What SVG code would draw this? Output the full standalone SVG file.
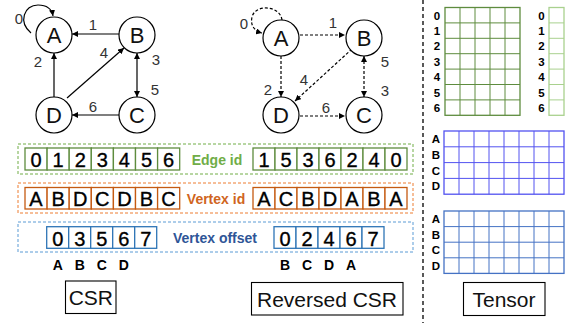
<svg xmlns="http://www.w3.org/2000/svg" width="566" height="323" viewBox="0 0 566 323">
<style>
text{font-family:"Liberation Sans",Arial,sans-serif;}
.node circle{fill:#fff;stroke:#000;stroke-width:1.2;}
.nl{font-size:22px;text-anchor:middle;fill:#111;}
.el{font-size:15px;text-anchor:middle;fill:#333;}
.e{fill:none;stroke:#000;stroke-width:1.2;marker-end:url(#ah);}
.ed{fill:none;stroke:#000;stroke-width:1.2;stroke-dasharray:3,2;marker-end:url(#ah);}
.cell{font-size:20px;text-anchor:middle;fill:#000;stroke:#000;stroke-width:0.35;}
.gc{fill:#fff;stroke:#5E8C3E;stroke-width:1.3;}
.oc{fill:#fff;stroke:#C55A11;stroke-width:1.3;}
.bc{fill:#fff;stroke:#2E75B6;stroke-width:1.3;}
.box{fill:none;stroke-width:1;stroke-dasharray:3,2;}
.lab{font-size:14px;font-weight:bold;text-anchor:middle;}
.bl{font-size:14px;font-weight:bold;text-anchor:middle;fill:#000;}
.tl{font-size:11.5px;font-weight:bold;text-anchor:middle;fill:#000;}
.title rect{fill:#fff;stroke:#000;stroke-width:1.1;}
.title text{font-size:21px;text-anchor:middle;fill:#111;}
</style>
<defs>
<marker id="ah" viewBox="0 0 10 10" refX="10" refY="5" markerWidth="6" markerHeight="6" markerUnits="userSpaceOnUse" orient="auto-start-reverse">
<path d="M0,0 L10,5 L0,10 z" fill="#000"/>
</marker>
</defs>
<rect width="566" height="323" fill="#fff"/>

<!-- CSR graph -->
<g id="connectors-csr">
<path class="e" d="M31,33 C18,22 24,5 38,5 C48,5 52,10 53,16"/>
<line class="e" x1="119" y1="34" x2="72" y2="34"/>
<line class="e" x1="54" y1="97" x2="54" y2="53"/>
<line class="e" x1="67" y1="98" x2="124" y2="48"/>
<line class="e" x1="137" y1="97" x2="137" y2="53" style="marker-start:url(#ah)"/>
<line class="e" x1="119" y1="115" x2="72" y2="115"/>
<text class="el" x="19" y="24">0</text>
<text class="el" x="93" y="30">1</text>
<text class="el" x="38" y="67">2</text>
<text class="el" x="104" y="58">4</text>
<text class="el" x="156" y="65">3</text>
<text class="el" x="155" y="95">5</text>
<text class="el" x="93" y="112">6</text>
</g>
<g id="csr-A" class="node"><circle cx="54" cy="35" r="18"/><text class="nl" x="54" y="43">A</text></g>
<g id="csr-B" class="node"><circle cx="137" cy="35" r="18"/><text class="nl" x="137" y="43">B</text></g>
<g id="csr-D" class="node"><circle cx="54" cy="115" r="18"/><text class="nl" x="54" y="123">D</text></g>
<g id="csr-C" class="node"><circle cx="137" cy="115" r="18"/><text class="nl" x="137" y="123">C</text></g>

<!-- Reversed CSR graph -->
<g id="connectors-rcsr">
<path class="ed" d="M282,20 C280,5 255,4 252,17 C250,26 255,31 262,33"/>
<line class="ed" x1="300" y1="35" x2="345" y2="35"/>
<line class="ed" x1="281" y1="56" x2="281" y2="97"/>
<line class="ed" x1="352" y1="49" x2="295" y2="101"/>
<line class="ed" x1="364" y1="56" x2="364" y2="97" style="marker-start:url(#ah)"/>
<line class="ed" x1="300" y1="116" x2="345" y2="116"/>
<text class="el" x="244" y="29">0</text>
<text class="el" x="333" y="28">1</text>
<text class="el" x="268" y="95">2</text>
<text class="el" x="304" y="85">4</text>
<text class="el" x="385" y="67">5</text>
<text class="el" x="385" y="96">3</text>
<text class="el" x="326" y="113">6</text>
</g>
<g id="rcsr-A" class="node"><circle cx="281" cy="38" r="18"/><text class="nl" x="281" y="46">A</text></g>
<g id="rcsr-B" class="node"><circle cx="364" cy="38" r="18"/><text class="nl" x="364" y="46">B</text></g>
<g id="rcsr-D" class="node"><circle cx="281" cy="115" r="18"/><text class="nl" x="281" y="123">D</text></g>
<g id="rcsr-C" class="node"><circle cx="364" cy="115" r="18"/><text class="nl" x="364" y="123">C</text></g>

<!-- Edge id row -->
<g id="edge-id">
<rect class="box" x="18" y="144" width="395" height="30" stroke="#70AD47"/>
<rect class="gc" x="25" y="148" width="22.1" height="22"/>
<rect class="gc" x="47.1" y="148" width="22.1" height="22"/>
<rect class="gc" x="69.2" y="148" width="22.1" height="22"/>
<rect class="gc" x="91.3" y="148" width="22.1" height="22"/>
<rect class="gc" x="113.4" y="148" width="22.1" height="22"/>
<rect class="gc" x="135.5" y="148" width="22.1" height="22"/>
<rect class="gc" x="157.6" y="148" width="22.1" height="22"/>
<text class="cell" x="36" y="166.5">0</text>
<text class="cell" x="58.1" y="166.5">1</text>
<text class="cell" x="80.2" y="166.5">2</text>
<text class="cell" x="102.3" y="166.5">3</text>
<text class="cell" x="124.4" y="166.5">4</text>
<text class="cell" x="146.5" y="166.5">5</text>
<text class="cell" x="168.6" y="166.5">6</text>
<text class="lab" x="217" y="164.5" fill="#70AD47">Edge id</text>
<rect class="gc" x="253" y="148" width="22" height="22"/>
<rect class="gc" x="275" y="148" width="22" height="22"/>
<rect class="gc" x="297" y="148" width="22" height="22"/>
<rect class="gc" x="319" y="148" width="22" height="22"/>
<rect class="gc" x="341" y="148" width="22" height="22"/>
<rect class="gc" x="363" y="148" width="22" height="22"/>
<rect class="gc" x="385" y="148" width="22" height="22"/>
<text class="cell" x="264" y="166.5">1</text>
<text class="cell" x="286" y="166.5">5</text>
<text class="cell" x="308" y="166.5">3</text>
<text class="cell" x="330" y="166.5">6</text>
<text class="cell" x="352" y="166.5">2</text>
<text class="cell" x="374" y="166.5">4</text>
<text class="cell" x="396" y="166.5">0</text>
</g>

<!-- Vertex id row -->
<g id="vertex-id">
<rect class="box" x="18" y="183" width="395" height="30" stroke="#ED7D31"/>
<rect class="oc" x="25" y="187.5" width="22.1" height="21.5"/>
<rect class="oc" x="47.1" y="187.5" width="22.1" height="21.5"/>
<rect class="oc" x="69.2" y="187.5" width="22.1" height="21.5"/>
<rect class="oc" x="91.3" y="187.5" width="22.1" height="21.5"/>
<rect class="oc" x="113.4" y="187.5" width="22.1" height="21.5"/>
<rect class="oc" x="135.5" y="187.5" width="22.1" height="21.5"/>
<rect class="oc" x="157.6" y="187.5" width="22.1" height="21.5"/>
<text class="cell" x="36" y="206">A</text>
<text class="cell" x="58.1" y="206">B</text>
<text class="cell" x="80.2" y="206">D</text>
<text class="cell" x="102.3" y="206">C</text>
<text class="cell" x="124.4" y="206">D</text>
<text class="cell" x="146.5" y="206">B</text>
<text class="cell" x="168.6" y="206">C</text>
<text class="lab" x="216" y="203.5" fill="#D0651E">Vertex id</text>
<rect class="oc" x="253" y="187.5" width="22" height="21.5"/>
<rect class="oc" x="275" y="187.5" width="22" height="21.5"/>
<rect class="oc" x="297" y="187.5" width="22" height="21.5"/>
<rect class="oc" x="319" y="187.5" width="22" height="21.5"/>
<rect class="oc" x="341" y="187.5" width="22" height="21.5"/>
<rect class="oc" x="363" y="187.5" width="22" height="21.5"/>
<rect class="oc" x="385" y="187.5" width="22" height="21.5"/>
<text class="cell" x="264" y="206">A</text>
<text class="cell" x="286" y="206">C</text>
<text class="cell" x="308" y="206">B</text>
<text class="cell" x="330" y="206">D</text>
<text class="cell" x="352" y="206">A</text>
<text class="cell" x="374" y="206">B</text>
<text class="cell" x="396" y="206">A</text>
</g>

<!-- Vertex offset row -->
<g id="vertex-offset">
<rect class="box" x="18" y="222" width="395" height="30" stroke="#5B9BD5"/>
<rect class="bc" x="46.7" y="226.7" width="22" height="21.6"/>
<rect class="bc" x="68.7" y="226.7" width="22" height="21.6"/>
<rect class="bc" x="90.7" y="226.7" width="22" height="21.6"/>
<rect class="bc" x="112.7" y="226.7" width="22" height="21.6"/>
<rect class="bc" x="134.7" y="226.7" width="22" height="21.6"/>
<text class="cell" x="57.7" y="246">0</text>
<text class="cell" x="79.7" y="246">3</text>
<text class="cell" x="101.7" y="246">5</text>
<text class="cell" x="123.7" y="246">6</text>
<text class="cell" x="145.7" y="246">7</text>
<text class="lab" x="215" y="243" fill="#2F5597">Vertex offset</text>
<rect class="bc" x="274" y="226.7" width="22" height="21.6"/>
<rect class="bc" x="296" y="226.7" width="22" height="21.6"/>
<rect class="bc" x="318" y="226.7" width="22" height="21.6"/>
<rect class="bc" x="340" y="226.7" width="22" height="21.6"/>
<rect class="bc" x="362" y="226.7" width="22" height="21.6"/>
<text class="cell" x="285" y="246">0</text>
<text class="cell" x="307" y="246">2</text>
<text class="cell" x="329" y="246">4</text>
<text class="cell" x="351" y="246">6</text>
<text class="cell" x="373" y="246">7</text>
<text class="bl" x="57.7" y="270">A</text>
<text class="bl" x="79.7" y="270">B</text>
<text class="bl" x="101.7" y="270">C</text>
<text class="bl" x="123.7" y="270">D</text>
<text class="bl" x="285" y="270">B</text>
<text class="bl" x="307" y="270">C</text>
<text class="bl" x="329" y="270">D</text>
<text class="bl" x="351" y="270">A</text>
</g>

<!-- Titles -->
<g id="title-csr" class="title"><rect x="65.5" y="281" width="50.5" height="32.5"/><text x="90.8" y="305">CSR</text></g>
<g id="title-rcsr" class="title"><rect x="251.5" y="282.5" width="151.5" height="32.5"/><text x="327" y="306.5">Reversed CSR</text></g>
<g id="title-tensor" class="title"><rect x="463.5" y="282.5" width="81.5" height="33"/><text x="504" y="306.5">Tensor</text></g>

<!-- separator -->
<line x1="423" y1="0" x2="423" y2="323" stroke="#000" stroke-width="1.3" stroke-dasharray="4,3"/>

<!-- Tensors -->
<g id="tensor-edge" fill="none">
<rect x="445" y="7.5" width="75" height="107.8" stroke="#5E8C3E" stroke-width="1.3"/>
<path stroke="#5E8C3E" stroke-width="1" d="M460,7.5V115.3M475,7.5V115.3M490,7.5V115.3M505,7.5V115.3M445,22.9H520M445,38.3H520M445,53.7H520M445,69.1H520M445,84.5H520M445,99.9H520"/>
<rect x="549" y="7.5" width="15" height="107.8" stroke="#A9D18E" stroke-width="1.3"/>
<path stroke="#A9D18E" stroke-width="1" d="M549,22.9H564M549,38.3H564M549,53.7H564M549,69.1H564M549,84.5H564M549,99.9H564"/>
<text class="tl" x="437" y="19.5">0</text>
<text class="tl" x="437" y="34.9">1</text>
<text class="tl" x="437" y="50.3">2</text>
<text class="tl" x="437" y="65.7">3</text>
<text class="tl" x="437" y="81.1">4</text>
<text class="tl" x="437" y="96.5">5</text>
<text class="tl" x="437" y="111.9">6</text>
<text class="tl" x="541.5" y="19.5">0</text>
<text class="tl" x="541.5" y="34.9">1</text>
<text class="tl" x="541.5" y="50.3">2</text>
<text class="tl" x="541.5" y="65.7">3</text>
<text class="tl" x="541.5" y="81.1">4</text>
<text class="tl" x="541.5" y="96.5">5</text>
<text class="tl" x="541.5" y="111.9">6</text>
</g>
<g id="tensor-vertex-1" fill="none">
<rect x="444" y="131" width="120" height="63.2" stroke="#5252F0" stroke-width="1.3"/>
<path stroke="#5252F0" stroke-width="1" d="M459,131V194.2M474,131V194.2M489,131V194.2M504,131V194.2M519,131V194.2M534,131V194.2M549,131V194.2M444,146.8H564M444,162.6H564M444,178.4H564"/>
<text class="tl" x="436" y="143">A</text>
<text class="tl" x="436" y="158.8">B</text>
<text class="tl" x="436" y="174.6">C</text>
<text class="tl" x="436" y="190.4">D</text>
</g>
<g id="tensor-vertex-2" fill="none">
<rect x="444" y="211" width="120" height="62.4" stroke="#4472C4" stroke-width="1.3"/>
<path stroke="#4472C4" stroke-width="1" d="M459,211V273.4M474,211V273.4M489,211V273.4M504,211V273.4M519,211V273.4M534,211V273.4M549,211V273.4M444,226.6H564M444,242.2H564M444,257.8H564"/>
<text class="tl" x="436" y="223">A</text>
<text class="tl" x="436" y="238.6">B</text>
<text class="tl" x="436" y="254.2">C</text>
<text class="tl" x="436" y="269.8">D</text>
</g>
</svg>
